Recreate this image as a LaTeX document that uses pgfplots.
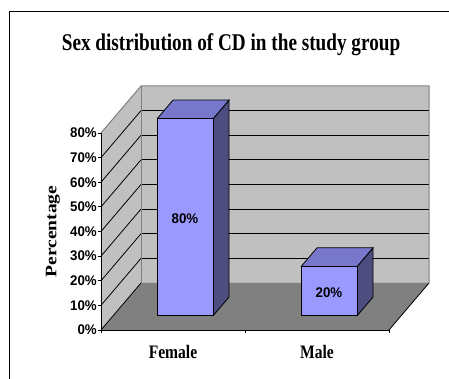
\documentclass[border=0pt]{standalone}
\usepackage{pgfplots}
\pgfplotsset{compat=1.18}
\usepackage{fontspec}
\setmainfont{Liberation Sans}
\newfontfamily\titlefont[FakeStretch=0.80]{Liberation Serif}
\newfontfamily\catfont[FakeStretch=0.82]{Liberation Serif}
\newfontfamily\ylabfont[FakeStretch=1.22]{Liberation Serif}
\newfontfamily\tickfont[FakeStretch=0.95]{Liberation Sans}
\definecolor{wallc}{RGB}{192,192,192}
\definecolor{floorc}{RGB}{128,128,128}
\definecolor{edgec}{RGB}{128,128,128}
\definecolor{barfront}{RGB}{153,153,255}
\definecolor{bartop}{RGB}{119,119,204}
\definecolor{barside}{RGB}{77,77,128}
\begin{document}
\begin{tikzpicture}
\path[use as bounding box] (-101pt,-49pt) rectangle (348pt,330pt);
\draw[black, line width=0.9pt] (-92pt,-70pt) -- (-92pt,319pt) -- (370pt,319pt);
\begin{axis}[
  at={(0pt,0pt)}, anchor=origin,
  x=144pt, y=2.4625pt,
  xmin=0, xmax=2, ymin=0, ymax=80,
  axis lines=left,
  axis line style={black, line width=0.8pt, -},
  axis on top,
  clip=false,
  tick align=outside,
  major tick length=3pt,
  tick style={black, line width=0.8pt},
  ytick={0,10,20,30,40,50,60,70,80},
  yticklabels={0\%,10\%,20\%,30\%,40\%,50\%,60\%,70\%,80\%},
  yticklabel style={font=\tickfont\fontsize{14}{16}\selectfont\bfseries, anchor=east, inner sep=0pt, xshift=-1pt},
  xtick={0,1,2},
  xticklabels={},
  extra x ticks={0.5,1.5},
  extra x tick labels={Female,Male},
  extra x tick style={major tick length=0pt, tick label style={font=\catfont\fontsize{19}{22}\selectfont\bfseries, anchor=base, inner sep=0pt, yshift=-29pt}},
]
% back wall
\addplot[fill=wallc, draw=none] coordinates {(0.27778,19.0863) (2.27778,19.0863) (2.27778,99.0863) (0.27778,99.0863) (0.27778,19.0863)};
% side wall
\addplot[fill=wallc, draw=none] coordinates {(0,0) (0.27778,19.0863) (0.27778,99.0863) (0,80) (0,0)};
% floor
\addplot[fill=floorc, draw=none] coordinates {(0,0) (2,0) (2.27778,19.0863) (0.27778,19.0863) (0,0)};
% back wall gridlines
\addplot[black, line width=0.8pt] coordinates {(0.27778,29.0863) (2.27778,29.0863)};
\addplot[black, line width=0.8pt] coordinates {(0.27778,39.0863) (2.27778,39.0863)};
\addplot[black, line width=0.8pt] coordinates {(0.27778,49.0863) (2.27778,49.0863)};
\addplot[black, line width=0.8pt] coordinates {(0.27778,59.0863) (2.27778,59.0863)};
\addplot[black, line width=0.8pt] coordinates {(0.27778,69.0863) (2.27778,69.0863)};
\addplot[black, line width=0.8pt] coordinates {(0.27778,79.0863) (2.27778,79.0863)};
\addplot[black, line width=0.8pt] coordinates {(0.27778,89.0863) (2.27778,89.0863)};
% side wall gridlines
\addplot[black, line width=0.8pt] coordinates {(0,10) (0.27778,29.0863)};
\addplot[black, line width=0.8pt] coordinates {(0,20) (0.27778,39.0863)};
\addplot[black, line width=0.8pt] coordinates {(0,30) (0.27778,49.0863)};
\addplot[black, line width=0.8pt] coordinates {(0,40) (0.27778,59.0863)};
\addplot[black, line width=0.8pt] coordinates {(0,50) (0.27778,69.0863)};
\addplot[black, line width=0.8pt] coordinates {(0,60) (0.27778,79.0863)};
\addplot[black, line width=0.8pt] coordinates {(0,70) (0.27778,89.0863)};
% wall edges
\addplot[edgec, line width=1pt] coordinates {(0,80) (0.27778,99.0863) (2.27778,99.0863) (2.27778,19.0863)};
\addplot[edgec, line width=0.8pt] coordinates {(0.27778,19.0863) (0.27778,99.0863)};
% floor edges
\addplot[black, line width=0.8pt] coordinates {(0,0) (0.27778,19.0863)};
\addplot[black, line width=0.8pt] coordinates {(2,0) (2.27778,19.0863)};
% Female bar (80)
\addplot[fill=barside, draw=black, line width=0.8pt] coordinates {(0.77778,5.7259) (0.88889,13.3604) (0.88889,93.3604) (0.77778,85.7259) (0.77778,5.7259)};
\addplot[fill=bartop, draw=black, line width=0.8pt] coordinates {(0.38889,85.7259) (0.77778,85.7259) (0.88889,93.3604) (0.5,93.3604) (0.38889,85.7259)};
\addplot[fill=barfront, draw=black, line width=0.8pt] coordinates {(0.38889,5.7259) (0.77778,5.7259) (0.77778,85.7259) (0.38889,85.7259) (0.38889,5.7259)};
% Male bar (20)
\addplot[fill=barside, draw=black, line width=0.8pt] coordinates {(1.77778,5.7259) (1.88889,13.3604) (1.88889,33.3604) (1.77778,25.7259) (1.77778,5.7259)};
\addplot[fill=bartop, draw=black, line width=0.8pt] coordinates {(1.38889,25.7259) (1.77778,25.7259) (1.88889,33.3604) (1.5,33.3604) (1.38889,25.7259)};
\addplot[fill=barfront, draw=black, line width=0.8pt] coordinates {(1.38889,5.7259) (1.77778,5.7259) (1.77778,25.7259) (1.38889,25.7259) (1.38889,5.7259)};
% data labels
\addplot[draw=none, mark=none, nodes near coords, point meta=explicit symbolic,
  nodes near coords style={anchor=center, font=\tickfont\fontsize{14}{16}\selectfont\bfseries}]
  coordinates {(0.58333,45.2)[80\%] (1.58333,15.2)[20\%]};
% title and axis label
\node[anchor=base, font=\titlefont\fontsize{24}{28}\selectfont\bfseries] at (axis cs:0.903,113.7) {Sex distribution of CD in the study group};
\node[xshift=-48pt, rotate=90, anchor=center, font=\ylabfont\fontsize{16}{19}\selectfont\bfseries] at (axis cs:0,40) {Percentage};
\end{axis}
\end{tikzpicture}
\end{document}
